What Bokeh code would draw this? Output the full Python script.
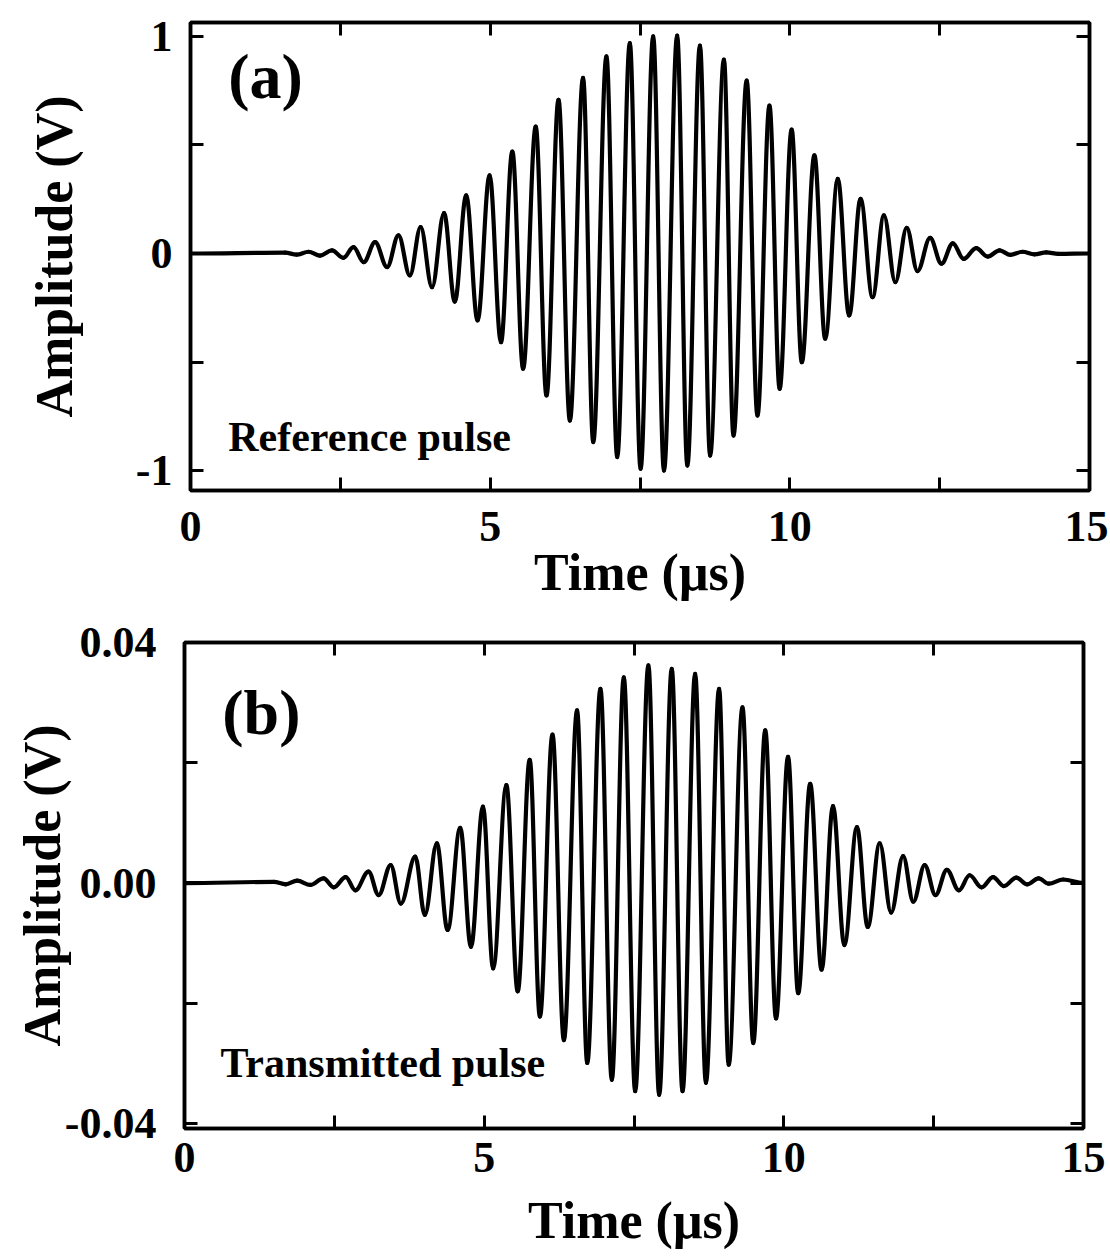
import numpy as np
from bokeh.plotting import figure
from bokeh.models import Range1d, FixedTicker, LinearAxis, Label, ColumnDataSource, CustomJSTickFormatter
from bokeh.embed import file_html
from bokeh.resources import INLINE

# ---- data: extrema of each pulse (time in us, amplitude in V)
ref_time = [0.0, 1.58, 1.77, 1.97, 2.16, 2.36, 2.55, 2.72, 2.89, 3.08, 3.28, 3.47, 3.66, 3.84, 4.03,
            4.23, 4.41, 4.60, 4.79, 4.99, 5.18, 5.37, 5.55, 5.76, 5.94, 6.14, 6.33, 6.55, 6.72, 6.94,
            7.12, 7.33, 7.51, 7.72, 7.90, 8.12, 8.29, 8.50, 8.67, 8.90, 9.06, 9.28, 9.46, 9.66, 9.83,
            10.03, 10.20, 10.41, 10.59, 10.80, 10.99, 11.18, 11.38, 11.57, 11.76, 11.95, 12.13, 12.34,
            12.53, 12.72, 12.90, 13.11, 13.30, 13.50, 13.68, 13.88, 14.08, 14.28, 14.48, 15.0]
ref_amp = [0.0, 0.004, -0.005, 0.008, -0.010, 0.014, -0.020, 0.029, -0.040, 0.052, -0.063, 0.083,
           -0.101, 0.121, -0.155, 0.186, -0.221, 0.267, -0.308, 0.359, -0.408, 0.469, -0.530, 0.584,
           -0.653, 0.707, -0.768, 0.808, -0.867, 0.906, -0.936, 0.967, -0.990, 0.998, -0.998, 1.002,
           -0.975, 0.956, -0.929, 0.892, -0.837, 0.795, -0.745, 0.680, -0.622, 0.570, -0.500, 0.451,
           -0.392, 0.343, -0.285, 0.251, -0.201, 0.175, -0.132, 0.118, -0.081, 0.072, -0.047, 0.047,
           -0.025, 0.025, -0.014, 0.014, -0.006, 0.008, -0.004, 0.005, -0.002, 0.0]

trans_time = [0.0, 1.49, 1.69, 1.88, 2.10, 2.32, 2.49, 2.69, 2.85, 3.07, 3.24, 3.44, 3.61, 3.85, 4.01,
              4.21, 4.39, 4.60, 4.78, 4.98, 5.15, 5.37, 5.56, 5.76, 5.93, 6.14, 6.33, 6.55, 6.72, 6.94,
              7.13, 7.33, 7.52, 7.74, 7.92, 8.13, 8.31, 8.52, 8.70, 8.92, 9.08, 9.31, 9.49, 9.69, 9.87,
              10.07, 10.24, 10.44, 10.63, 10.82, 11.01, 11.22, 11.40, 11.60, 11.79, 11.99, 12.16,
              12.35, 12.53, 12.72, 12.92, 13.10, 13.30, 13.49, 13.67, 13.88, 14.06, 14.25, 14.42,
              14.66, 15.0]
trans_amp = [0.0, 0.0002, -0.0002, 0.0004, -0.0003, 0.0008, -0.0007, 0.0010, -0.0012, 0.0019,
             -0.0020, 0.0030, -0.0034, 0.0044, -0.0053, 0.0066, -0.0078, 0.0092, -0.0106, 0.0127,
             -0.0142, 0.0163, -0.0180, 0.0205, -0.0222, 0.0247, -0.0261, 0.0287, -0.0299, 0.0323,
             -0.0327, 0.0342, -0.0346, 0.0362, -0.0352, 0.0356, -0.0346, 0.0348, -0.0332, 0.0323,
             -0.0302, 0.0292, -0.0266, 0.0254, -0.0225, 0.0210, -0.0183, 0.0165, -0.0144, 0.0128,
             -0.0103, 0.0093, -0.0073, 0.0066, -0.0049, 0.0045, -0.0031, 0.0030, -0.0020, 0.0022,
             -0.0012, 0.0013, -0.0007, 0.0010, -0.0005, 0.0009, -0.0002, 0.0008, -0.0001, 0.0006, 0.0]

x_ticks = [0, 2.5, 5, 7.5, 10, 12.5, 15]
x_tick_labels = ["0", "", "5", "", "10", "", "15"]
ref_y_ticks = [-1, -0.5, 0, 0.5, 1]
ref_y_tick_labels = ["-1", "", "0", "", "1"]
trans_y_ticks = [-0.04, -0.02, 0, 0.02, 0.04]
trans_y_tick_labels = ["-0.04", "", "0.00", "", "0.04"]

FONT = "Liberation Serif"


def segments(t, v, a=0.3634):
    """Smooth cubic segments between consecutive extrema (horizontal tangents at each extremum)."""
    t = np.asarray(t, dtype=float)
    v = np.asarray(v, dtype=float)
    x0, x1 = t[:-1], t[1:]
    y0, y1 = v[:-1], v[1:]
    dx = x1 - x0
    return ColumnDataSource(dict(x0=x0, y0=y0, x1=x1, y1=y1,
                                 cx0=x0 + a * dx, cy0=y0, cx1=x1 - a * dx, cy1=y1))


def style_axis(ax, ticks, labels, standoff, show_labels=True):
    ax.ticker = FixedTicker(ticks=ticks)
    ax.major_tick_in = 13
    ax.major_tick_out = 0
    ax.minor_tick_in = 0
    ax.minor_tick_out = 0
    ax.axis_line_width = 3.5
    ax.axis_line_color = "black"
    ax.major_tick_line_width = 3
    ax.major_tick_line_color = "black"
    if show_labels:
        ax.major_label_overrides = dict(zip(ticks, labels))
        ax.major_label_text_font = FONT
        ax.major_label_text_font_size = "44px"
        ax.major_label_text_font_style = "bold"
        ax.major_label_text_color = "black"
        ax.major_label_standoff = standoff
    else:
        ax.formatter = CustomJSTickFormatter(code="return ''")
        ax.major_label_text_font_size = "1px"
        ax.major_label_standoff = 0


def make_panel(t, v, width, height, y_range, y_ticks, y_labels, borders, tag, tag_pos, name, name_pos,
               xstand, ystand, xlab_stand, ylab_stand):
    left, right, top, bottom = borders
    p = figure(width=width, height=height, x_range=Range1d(0, 15), y_range=Range1d(*y_range),
               output_backend="svg", toolbar_location=None,
               min_border_left=left, min_border_right=right,
               min_border_top=top, min_border_bottom=bottom)
    p.grid.visible = False
    p.outline_line_color = "black"
    p.outline_line_width = 3.5
    p.background_fill_color = "white"
    p.border_fill_color = "white"

    style_axis(p.xaxis[0], x_ticks, x_tick_labels, xstand)
    style_axis(p.yaxis[0], y_ticks, y_labels, ystand)
    for ax, lab in ((p.xaxis[0], "Time (\u03bcs)"), (p.yaxis[0], "Amplitude (V)")):
        ax.axis_label = lab
        ax.axis_label_text_font = FONT
        ax.axis_label_text_font_size = "52px"
        ax.axis_label_text_font_style = "bold"
        ax.axis_label_text_color = "black"
    p.xaxis[0].axis_label_standoff = xlab_stand
    p.yaxis[0].axis_label_standoff = ylab_stand

    top_ax = LinearAxis()
    style_axis(top_ax, x_ticks, x_tick_labels, 0, show_labels=False)
    p.add_layout(top_ax, "above")
    right_ax = LinearAxis()
    style_axis(right_ax, y_ticks, y_labels, 0, show_labels=False)
    p.add_layout(right_ax, "right")

    src = segments(t, v)
    p.bezier(x0="x0", y0="y0", x1="x1", y1="y1", cx0="cx0", cy0="cy0", cx1="cx1", cy1="cy1",
             source=src, line_color="black", line_width=4.2, line_cap="round")

    p.add_layout(Label(x=tag_pos[0], y=tag_pos[1], text=tag, text_font=FONT, text_font_size="64px",
                       text_font_style="bold", text_color="black", text_baseline="alphabetic"))
    p.add_layout(Label(x=name_pos[0], y=name_pos[1], text=name, text_font=FONT, text_font_size="42px",
                       text_font_style="bold", text_color="black", text_baseline="alphabetic"))
    return p


assert len(ref_time) == len(ref_amp)
assert len(trans_time) == len(trans_amp)

p1 = make_panel(ref_time, ref_amp, 1108, 610, (-1.0897, 1.0621), ref_y_ticks, ref_y_tick_labels,
                (190, 19, 22, 120), "(a)", (0.63, 0.814), "Reference pulse", (0.63, -0.846),
                xstand=21, ystand=18, xlab_stand=0, ylab_stand=50)
p2 = make_panel(trans_time, trans_amp, 1108, 644, (-0.0408, 0.04), trans_y_ticks, trans_y_tick_labels,
                (184, 25, 32, 126), "(b)", (0.63, 0.0283), "Transmitted pulse", (0.60, -0.0299),
                xstand=14, ystand=28, xlab_stand=17, ylab_stand=-9)

# two independent roots, stacked, so each panel keeps its own frame position
open("out.html", "w").write(file_html([p1, p2], INLINE))
